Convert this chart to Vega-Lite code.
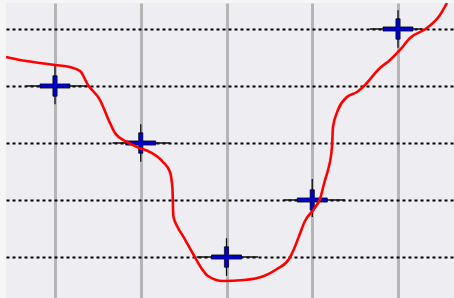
{
  "$schema": "https://vega.github.io/schema/vega-lite/v6.json",
  "width": 448,
  "height": 295,
  "autosize": {"type": "none"},
  "padding": {"left": 6, "top": 3, "right": 0, "bottom": 0},
  "background": "#f6f6f6",
  "config": {"view": {"fill": "#eeedf1", "stroke": null}},
  "datasets": {
    "curve": [
      {"x": 0.429, "y": 4.509}, {"x": 0.592, "y": 4.456}, {"x": 0.825, "y": 4.404},
      {"x": 1.0, "y": 4.368}, {"x": 1.175, "y": 4.333}, {"x": 1.292, "y": 4.263},
      {"x": 1.385, "y": 4.018}, {"x": 1.525, "y": 3.754}, {"x": 1.641, "y": 3.351},
      {"x": 1.7, "y": 3.175}, {"x": 1.84, "y": 3.018}, {"x": 1.956, "y": 2.93},
      {"x": 2.108, "y": 2.842}, {"x": 2.259, "y": 2.667}, {"x": 2.341, "y": 2.491},
      {"x": 2.37, "y": 2.193}, {"x": 2.38, "y": 1.719}, {"x": 2.423, "y": 1.544},
      {"x": 2.493, "y": 1.368}, {"x": 2.598, "y": 1.088}, {"x": 2.691, "y": 0.842},
      {"x": 2.784, "y": 0.667}, {"x": 2.959, "y": 0.579}, {"x": 3.204, "y": 0.596},
      {"x": 3.437, "y": 0.667}, {"x": 3.589, "y": 0.789}, {"x": 3.729, "y": 0.965},
      {"x": 3.787, "y": 1.14}, {"x": 3.846, "y": 1.368}, {"x": 3.915, "y": 1.632},
      {"x": 4.02, "y": 1.842}, {"x": 4.09, "y": 2.018}, {"x": 4.149, "y": 2.351},
      {"x": 4.184, "y": 2.526}, {"x": 4.23, "y": 2.93}, {"x": 4.242, "y": 3.281},
      {"x": 4.3, "y": 3.579}, {"x": 4.405, "y": 3.807}, {"x": 4.522, "y": 3.895},
      {"x": 4.592, "y": 3.982}, {"x": 4.79, "y": 4.316},
      {"x": 4.907, "y": 4.456}, {"x": 5.023, "y": 4.632}, {"x": 5.14, "y": 4.842},
      {"x": 5.338, "y": 5.018}, {"x": 5.49, "y": 5.246}, {"x": 5.571, "y": 5.456}
    ],
    "pts": [
      {"x": 1, "y": 4, "xlo": 0.66, "xhi": 1.38, "ylo": 3.68, "yhi": 4.35},
      {"x": 2, "y": 3, "xlo": 1.67, "xhi": 2.34, "ylo": 2.67, "yhi": 3.33},
      {"x": 3, "y": 1, "xlo": 2.65, "xhi": 3.37, "ylo": 0.67, "yhi": 1.33},
      {"x": 4, "y": 2, "xlo": 3.67, "xhi": 4.38, "ylo": 1.7, "yhi": 2.37},
      {"x": 5, "y": 5, "xlo": 4.67, "xhi": 5.28, "ylo": 4.67, "yhi": 5.33}
    ]
  },
  "resolve": {"scale": {"x": "shared", "y": "shared"}},
  "layer": [
    {
      "data": {"name": "pts"},
      "mark": {"type": "rule", "color": "#111111", "strokeWidth": 1.3},
      "encoding": {
        "x": {
          "field": "xlo", "type": "quantitative",
          "scale": {"domain": [0.4286, 5.653], "nice": false, "zero": false},
          "axis": {"values": [1, 2, 3, 4, 5], "grid": true, "gridColor": "#b5b5b5", "gridWidth": 3, "gridOpacity": 1, "labels": false, "ticks": false, "domain": false, "title": null}
        },
        "x2": {"field": "xhi"},
        "y": {
          "field": "y", "type": "quantitative",
          "scale": {"domain": [0.281, 5.456], "nice": false, "zero": false},
          "axis": {"values": [1, 2, 3, 4, 5], "grid": true, "gridColor": "#000000", "gridWidth": 2, "gridDash": [3, 3], "gridOpacity": 1, "labels": false, "ticks": false, "domain": false, "title": null}
        }
      }
    },
    {
      "data": {"name": "pts"},
      "mark": {"type": "rule", "color": "#111111", "strokeWidth": 1.3},
      "encoding": {
        "x": {"field": "x", "type": "quantitative"},
        "y": {"field": "ylo", "type": "quantitative"},
        "y2": {"field": "yhi"}
      }
    },
    {
      "data": {"name": "pts"},
      "mark": {
        "type": "point",
        "shape": "M-1,-0.14H-0.14V-0.68H0.14V-0.14H1V0.14H0.14V0.68H-0.14V0.14H-1Z",
        "size": 900,
        "filled": true,
        "fill": "#0000c8",
        "stroke": "#000000",
        "strokeWidth": 0.7,
        "opacity": 1
      },
      "encoding": {
        "x": {"field": "x", "type": "quantitative"},
        "y": {"field": "y", "type": "quantitative"}
      }
    },
    {
      "data": {"name": "curve"},
      "mark": {"type": "line", "color": "#ff0000", "strokeWidth": 2.6, "interpolate": "monotone", "clip": true},
      "encoding": {
        "x": {"field": "x", "type": "quantitative"},
        "y": {"field": "y", "type": "quantitative"}
      }
    }
  ]
}
